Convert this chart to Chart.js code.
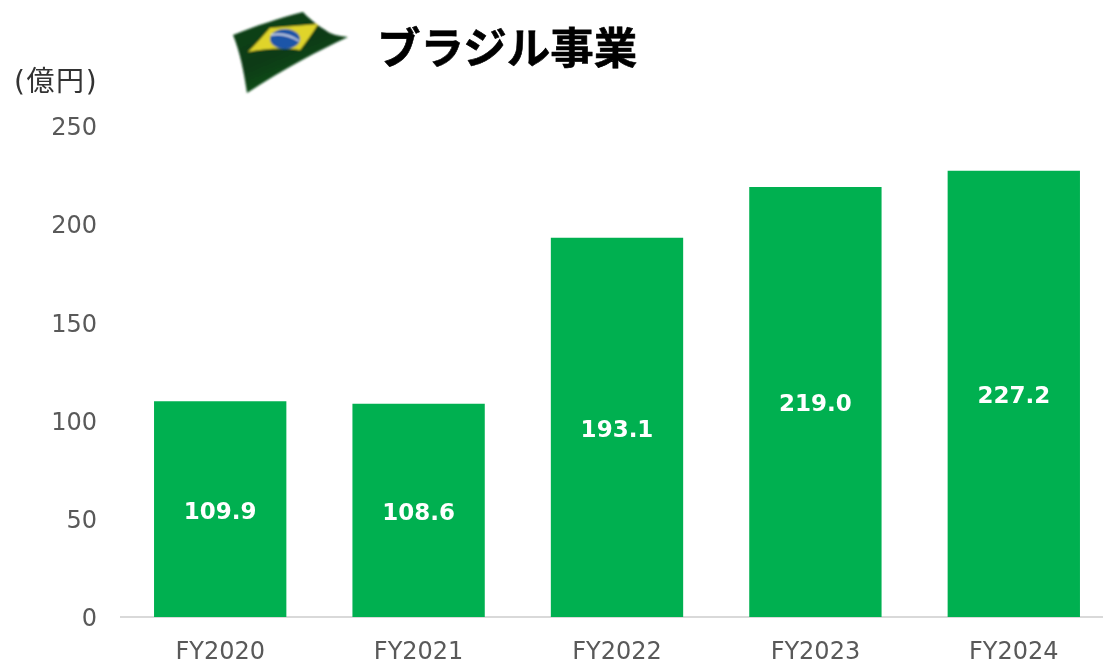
<!DOCTYPE html>
<html><head><meta charset="utf-8">
<script src="https://cdn.jsdelivr.net/npm/chart.js@4"></script>
<style>
html,body{margin:0;padding:0;background:#fff;overflow:hidden}
#wrap{position:relative;width:1103px;height:661px;overflow:hidden}
canvas{position:absolute;left:0;top:0}
.t{position:absolute;white-space:nowrap}
#title{left:377px;top:15px;font:700 43.5px "Noto Sans CJK JP";line-height:62px;color:#000;-webkit-text-stroke:0.6px #000}
#unit{left:14px;top:63px;font:400 28px "DejaVu Sans","Noto Sans CJK JP";line-height:38px;color:#333;letter-spacing:1.6px}
</style></head><body>
<div id="wrap">
<canvas id="c" width="1120" height="661" style="width:1120px;height:661px"></canvas>
<div class="t" id="title">ブラジル事業</div>
<div class="t" id="unit">(億円)</div>
<svg style="position:absolute;left:225px;top:5px" width="135" height="95" viewBox="225 5 135 95">
<defs>
<filter id="b"><feGaussianBlur stdDeviation="0.8"/></filter>
<linearGradient id="g" x1="0" y1="0" x2="0.6" y2="1"><stop offset="0" stop-color="#0b4718"/><stop offset="0.55" stop-color="#083a13"/><stop offset="1" stop-color="#0f5a20"/></linearGradient>
</defs>
<g filter="url(#b)">
<path d="M233 35 C255 26 280 18 303 12 C312 22 325 30 330 33 C336 36 342 36 348 37 C320 50 285 68 247 93 C244 72 240 52 233 35Z" fill="url(#g)"/>
<path d="M248 52 C256 44 263 36 270 28 L318 24 C312 34 306 42 300 50 C282 47 264 49 248 52Z" fill="#e0d42a"/>
<ellipse cx="285" cy="39" rx="15" ry="10" fill="#1f55a8"/>
<path d="M271 35 C280 33 290 35 299 41" stroke="#dfe8f2" stroke-width="1.5" fill="none"/>
</g>
</svg>
</div>
<script>
const categories=["FY2020","FY2021","FY2022","FY2023","FY2024"];
const values=[109.9,108.6,193.1,219.0,227.2];
const yTicks=[0,50,100,150,200,250];
const labelPlugin={id:"inBarLabels",afterDatasetsDraw(ch){
  const m=ch.getDatasetMeta(0),c=ch.ctx;
  c.save();c.fillStyle="#fff";c.font='700 23px "DejaVu Sans"';c.textAlign="center";c.textBaseline="middle";
  m.data.forEach((b,i)=>{c.fillText(values[i].toFixed(1),b.x,(b.y+b.base)/2+3.5);});
  c.restore();
}};
new Chart(document.getElementById("c"),{
  type:"bar",
  data:{labels:categories,datasets:[{data:values,backgroundColor:"#00B050",borderWidth:0,categoryPercentage:0.667,barPercentage:1}]},
  options:{
    responsive:false,animation:false,
    layout:{padding:{top:126,right:7,left:0,bottom:0}},
    plugins:{legend:{display:false},tooltip:{enabled:false},title:{display:false}},
    scales:{
      x:{grid:{display:false},border:{color:"#d9d9d9",width:2},
         afterFit(a){a.height=44;},
         ticks:{color:"#595959",font:{family:"DejaVu Sans",size:24},padding:13,maxRotation:0}},
      y:{min:0,max:250,afterBuildTicks(a){a.ticks=yTicks.map(v=>({value:v}));},
         afterFit(a){a.width=121;},
         grid:{display:false},border:{display:false},
         ticks:{color:"#595959",font:{family:"DejaVu Sans",size:24},padding:16,labelOffset:3}}
    }
  },
  plugins:[labelPlugin]
});
</script></body></html>
